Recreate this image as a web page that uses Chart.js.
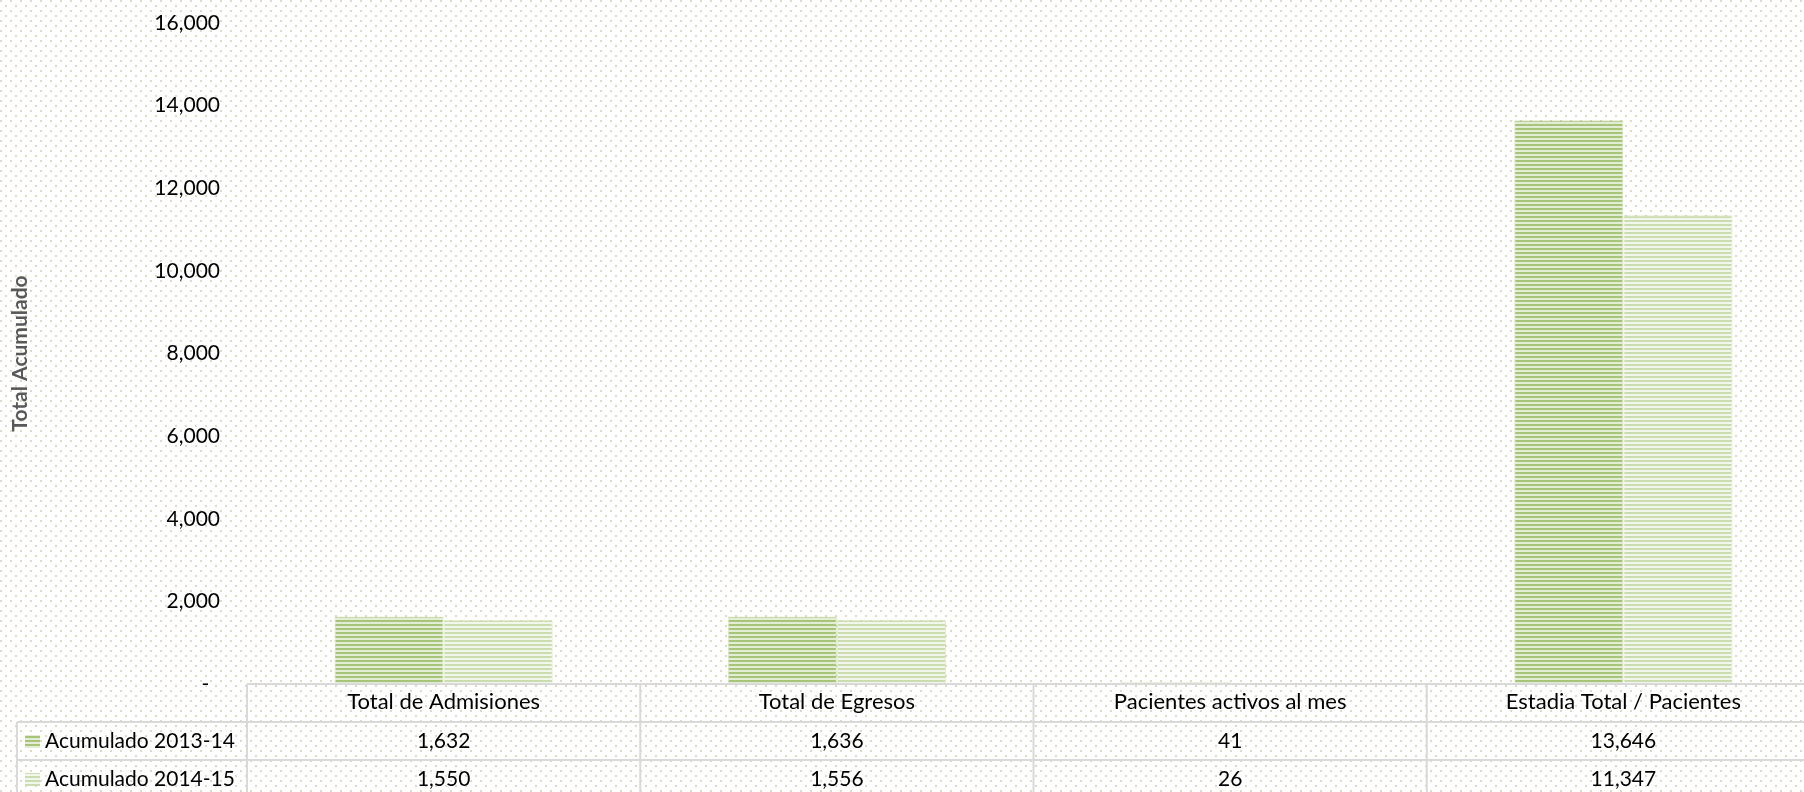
<!DOCTYPE html>
<html lang="es">
<head>
<meta charset="UTF-8">
<title>Total Acumulado</title>
<script src="https://cdn.jsdelivr.net/npm/chart.js"></script>
<style>
    html, body {
        margin: 0;
        padding: 0;
        overflow: hidden;
        background: #fff;
    }

    .chart-box {
        width: 1822px;
        height: 792px;
    }
</style>
</head>
<body>
<div class="chart-box">
    <canvas id="acumChart"></canvas>
</div>

<script>
    // data
    const categories = ['Total de Admisiones', 'Total de Egresos', 'Pacientes activos al mes', 'Estadia Total / Pacientes'];
    const seriesNames = ['Acumulado 2013-14', 'Acumulado 2014-15'];
    const acum1314 = [1632, 1636, 41, 13646];
    const acum1415 = [1550, 1556, 26, 11347];
    const yTicks = [0, 2000, 4000, 6000, 8000, 10000, 12000, 14000, 16000];

    const FONT = 'Lato';

    function stripes(c1, c2) {
        const cv = document.createElement('canvas');
        cv.width = 4;
        cv.height = 4;
        const g = cv.getContext('2d');
        g.fillStyle = c2;
        g.fillRect(0, 0, 4, 4);
        g.fillStyle = c1;
        g.fillRect(0, 0, 4, 2);
        return g.createPattern(cv, 'repeat');
    }

    function dots() {
        const cv = document.createElement('canvas');
        cv.width = 10;
        cv.height = 10;
        const g = cv.getContext('2d');
        g.fillStyle = '#ffffff';
        g.fillRect(0, 0, 10, 10);
        g.fillStyle = '#dedac6';
        g.fillRect(0, 0, 2, 2);
        g.fillRect(5, 5, 2, 2);
        return g.createPattern(cv, 'repeat');
    }

    const fill1 = stripes('#a6c579', '#e3edd5');
    const fill2 = stripes('#cadcb0', '#f2f7eb');
    const bgFill = dots();

    // dotted background behind everything
    const backdrop = {
        id: 'backdrop',
        beforeDraw(chart) {
            const c = chart.ctx;
            c.save();
            c.fillStyle = bgFill;
            c.fillRect(0, 0, chart.width, chart.height);
            c.restore();
        }
    };

    // the data table under the plot
    const dataTable = {
        id: 'dataTable',
        afterDraw(chart) {
            const c = chart.ctx;
            const area = chart.chartArea;
            const x = chart.scales.x;
            const rowH = 38;
            const top = area.bottom;
            const catW = (area.right - area.left) / categories.length;
            const rows = [acum1314, acum1415];
            const keys = [fill1, fill2];

            c.save();
            c.strokeStyle = '#d9d9d9';
            c.lineWidth = 2;
            c.beginPath();
            c.moveTo(area.left, top);
            c.lineTo(chart.width, top);
            for (let r = 1; r <= 3; r++) {
                c.moveTo(17, top + r * rowH);
                c.lineTo(chart.width, top + r * rowH);
            }
            for (let i = 0; i <= categories.length; i++) {
                const vx = area.left + i * catW;
                c.moveTo(vx, top);
                c.lineTo(vx, chart.height);
            }
            c.moveTo(17, top + rowH);
            c.lineTo(17, chart.height);
            c.stroke();

            c.font = '21px ' + FONT;
            c.textBaseline = 'middle';
            rows.forEach((vals, r) => {
                const cy = top + (r + 1.5) * rowH;
                c.fillStyle = keys[r];
                c.fillRect(25, cy - 6, 15, 13);
                c.fillStyle = '#000';
                c.textAlign = 'left';
                c.fillText(seriesNames[r], 45, cy);
                c.textAlign = 'center';
                vals.forEach((v, i) => {
                    c.fillText(v.toLocaleString('en-US'), x.getPixelForValue(i), cy);
                });
            });
            c.restore();
        }
    };

    const ctx = document.getElementById('acumChart').getContext('2d');

    new Chart(ctx, {
        type: 'bar',
        data: {
            labels: categories,
            datasets: [
                {
                    label: seriesNames[0],
                    data: acum1314,
                    backgroundColor: fill1,
                    borderColor: 'rgba(155, 187, 89, 0.35)',
                    borderWidth: 1
                },
                {
                    label: seriesNames[1],
                    data: acum1415,
                    backgroundColor: fill2,
                    borderColor: 'rgba(195, 214, 155, 0.45)',
                    borderWidth: 1
                }
            ]
        },
        options: {
            responsive: true,
            maintainAspectRatio: false,
            animation: false,
            layout: {
                padding: { top: 23, left: 0, right: 2, bottom: 0 }
            },
            datasets: {
                bar: {
                    categoryPercentage: 0.555,
                    barPercentage: 1.0
                }
            },
            plugins: {
                legend: { display: false },
                tooltip: { enabled: false }
            },
            scales: {
                x: {
                    grid: { display: false, drawTicks: false },
                    border: { display: false },
                    ticks: {
                        color: '#000',
                        padding: 5,
                        maxRotation: 0,
                        font: { family: FONT, size: 22 }
                    },
                    afterFit(scale) {
                        scale.height = 108;
                    }
                },
                y: {
                    min: 0,
                    max: 16000,
                    grid: { display: false, drawTicks: false },
                    border: { display: false },
                    afterBuildTicks(scale) {
                        scale.ticks = yTicks.map(v => ({ value: v }));
                    },
                    ticks: {
                        color: '#000',
                        padding: 27,
                        font: { family: FONT, size: 21 },
                        callback: function (value) {
                            return value === 0 ? '-  ' : value.toLocaleString('en-US');
                        }
                    },
                    title: {
                        display: true,
                        text: 'Total Acumulado',
                        color: '#595959',
                        padding: { top: 8, bottom: 0 },
                        font: { family: FONT, size: 21, weight: 'bold' }
                    },
                    afterFit(scale) {
                        scale.width = 247;
                        scale.paddingTop = 0;
                        scale.paddingBottom = 0;
                    }
                }
            }
        },
        plugins: [backdrop, dataTable]
    });
</script>
</body>
</html>
